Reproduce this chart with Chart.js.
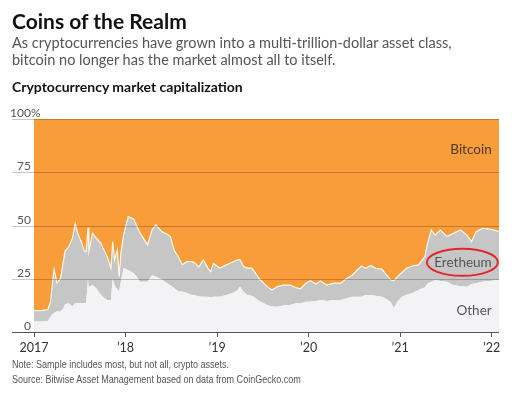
<!DOCTYPE html>
<html>
<head>
<meta charset="utf-8">
<script src="https://cdn.jsdelivr.net/npm/chart.js@4"></script>
<style>
  html, body { margin: 0; padding: 0; background: #fff; }
  body { width: 512px; height: 397px; position: relative; overflow: hidden; font-family: Lato, "Open Sans", sans-serif; }
  #chart { position: absolute; left: 0; top: 0; }
  .txt { position: absolute; left: 12px; white-space: nowrap; }
  .title { top: 9px; font-size: 21px; line-height: 24px; font-weight: 700; color: #111; }
  .dek { top: 35px; font-size: 14.5px; line-height: 16.5px; color: #555; }
  .sub { top: 78px; font-size: 14px; line-height: 18px; font-weight: 700; color: #111; }
  .foot { top: 357px; font-family: "Liberation Sans", Arial, sans-serif; font-size: 11px; line-height: 14.5px; color: #555;
          transform: scaleX(0.82); transform-origin: left top; }
</style>
</head>
<body>
<canvas id="chart" width="512" height="397"></canvas>
<div class="txt title">Coins of the Realm</div>
<div class="txt dek">As cryptocurrencies have grown into a multi-trillion-dollar asset class,<br>bitcoin no longer has the market almost all to itself.</div>
<div class="txt sub">Cryptocurrency market capitalization</div>
<div class="txt foot">Note: Sample includes most, but not all, crypto assets.<br>Source: Bitwise Asset Management based on data from CoinGecko.com</div>
<script>
// dates as decimal years
const dates = [
  2017.00, 2017.08, 2017.15, 2017.18, 2017.21, 2017.22, 2017.25, 2017.29, 2017.32, 2017.34,
  2017.38, 2017.42, 2017.45, 2017.48, 2017.52, 2017.55, 2017.57, 2017.59, 2017.60, 2017.64,
  2017.68, 2017.73, 2017.77, 2017.80, 2017.84, 2017.86, 2017.88, 2017.91, 2017.93, 2017.95,
  2017.98, 2018.03, 2018.09, 2018.12, 2018.16, 2018.24, 2018.29, 2018.33, 2018.40, 2018.45,
  2018.49, 2018.53, 2018.58, 2018.62, 2018.67, 2018.71, 2018.75, 2018.80, 2018.85, 2018.90,
  2018.93, 2018.96, 2019.03, 2019.10, 2019.18, 2019.22, 2019.25, 2019.29, 2019.33, 2019.38,
  2019.42, 2019.46, 2019.51, 2019.55, 2019.60, 2019.66, 2019.72, 2019.80, 2019.86, 2019.91,
  2019.97, 2020.02, 2020.08, 2020.13, 2020.20, 2020.27, 2020.35, 2020.42, 2020.48, 2020.53,
  2020.58, 2020.62, 2020.68, 2020.73, 2020.80, 2020.85, 2020.90, 2020.93, 2020.97, 2021.02,
  2021.07, 2021.13, 2021.20, 2021.27, 2021.30, 2021.34, 2021.38, 2021.44, 2021.51, 2021.58,
  2021.66, 2021.73, 2021.78, 2021.83, 2021.90, 2021.98, 2022.05, 2022.08
];

// share of total market cap, %
const otherShare = [
  4.9, 4.9, 5.0, 7.0, 8.8, 9.0, 9.6, 9.6, 11.0, 13.0,
  13.5, 12.0, 13.5, 13.5, 13.5, 13.5, 13.5, 25.0, 21.3, 22.0,
  20.5, 17.5, 16.0, 15.0, 15.0, 25.0, 22.0, 20.0, 19.0, 24.0,
  30.0, 29.0, 27.6, 26.0, 23.6, 23.6, 26.7, 26.0, 24.5, 23.0,
  22.0, 20.6, 19.0, 19.0, 18.3, 17.5, 17.4, 16.7, 16.6, 16.6,
  16.3, 16.6, 16.5, 17.4, 18.5, 19.5, 21.3, 18.9, 17.4, 17.0,
  15.8, 14.5, 13.5, 12.7, 12.0, 11.9, 12.5, 12.7, 13.5, 13.5,
  14.2, 14.2, 14.5, 15.0, 14.5, 15.0, 15.0, 15.8, 16.6, 16.6,
  16.6, 17.4, 17.4, 17.0, 16.6, 15.5, 14.0, 11.1, 14.2, 16.6,
  17.5, 18.2, 19.7, 21.0, 22.9, 23.5, 24.4, 24.0, 23.6, 22.1,
  21.5, 21.3, 22.5, 22.9, 23.6, 24.0, 24.4, 24.4
];
const ethereumShare = [
  5.1, 5.1, 5.5, 7.0, 17.2, 20.5, 13.4, 15.4, 22.0, 25.0,
  26.5, 32.0, 37.5, 32.5, 28.5, 24.5, 24.2, 24.0, 16.7, 24.4,
  23.5, 24.2, 22.0, 20.4, 15.0, 17.4, 11.8, 18.5, 7.0, 13.0,
  16.0, 25.2, 25.4, 24.0, 22.8, 17.3, 21.3, 24.3, 22.5, 23.0,
  22.8, 17.9, 16.0, 12.6, 14.7, 15.5, 15.3, 13.8, 17.2, 13.4,
  12.0, 15.6, 13.5, 14.1, 14.5, 14.3, 12.7, 11.8, 12.6, 13.0,
  11.8, 10.5, 9.4, 8.6, 7.7, 9.4, 9.5, 9.3, 7.3, 6.8,
  8.7, 9.9, 8.0, 9.0, 7.5, 7.9, 7.9, 9.4, 10.2, 12.5,
  14.4, 12.5, 13.8, 12.9, 12.9, 11.3, 10.4, 12.9, 11.8, 11.4,
  12.4, 12.8, 11.8, 14.4, 18.8, 24.4, 21.1, 23.9, 21.2, 24.2,
  26.4, 24.2, 19.9, 24.2, 25.1, 24.3, 23.2, 22.6
];
const bitcoinShare = [
  90.0, 90.0, 89.5, 86.0, 74.0, 70.5, 77.0, 75.0, 67.0, 62.0,
  60.0, 56.0, 49.0, 54.0, 58.0, 62.0, 62.3, 51.0, 62.0, 53.6,
  56.0, 58.3, 62.0, 64.6, 70.0, 57.6, 66.2, 61.5, 74.0, 63.0,
  54.0, 45.8, 47.0, 50.0, 53.6, 59.1, 52.0, 49.7, 53.0, 54.0,
  55.2, 61.5, 65.0, 68.4, 67.0, 67.0, 67.3, 69.5, 66.2, 70.0,
  71.7, 67.8, 70.0, 68.5, 67.0, 66.2, 66.0, 69.3, 70.0, 70.0,
  72.4, 75.0, 77.1, 78.7, 80.3, 78.7, 78.0, 78.0, 79.2, 79.7,
  77.1, 75.9, 77.5, 76.0, 78.0, 77.1, 77.1, 74.8, 73.2, 70.9,
  69.0, 70.1, 68.8, 70.1, 70.5, 73.2, 75.6, 76.0, 74.0, 72.0,
  70.1, 69.0, 68.5, 64.6, 58.3, 52.1, 54.5, 52.1, 55.2, 53.7,
  52.1, 54.5, 57.6, 52.9, 51.3, 51.7, 52.4, 53.0
];

const yearTicks = [2017, 2018, 2019, 2020, 2021, 2022];
const yTicks = [0, 25, 50, 75, 100];

const pts = arr => arr.map((v, i) => ({ x: dates[i], y: v }));

const overlay = {
  id: 'overlay',
  afterDatasetsDraw(chart) {
    const { ctx, chartArea, scales } = chart;
    const xs = scales.x, ys = scales.y;
    ctx.save();
    // gridlines over the areas
    yTicks.forEach(t => {
      const y = Math.round(ys.getPixelForValue(t)) + 0.5;
      ctx.beginPath();
      ctx.moveTo(12, y);
      ctx.lineTo(chartArea.right, y);
      ctx.strokeStyle = t === 0 ? '#555' : 'rgba(0,0,0,0.22)';
      ctx.lineWidth = 1;
      ctx.stroke();
      ctx.font = '12px Lato, "Open Sans", sans-serif';
      ctx.fillStyle = '#555';
      ctx.textBaseline = 'alphabetic';
      ctx.textAlign = 'right';
      ctx.fillText(String(t), 31, y - 3);
      if (t === 100) {
        ctx.textAlign = 'left';
        ctx.fillText('%', 31, y - 3);
      }
    });
    // series labels
    ctx.font = '13.5px Lato, "Open Sans", sans-serif';
    ctx.textAlign = 'right';
    ctx.textBaseline = 'middle';
    const lx = xs.getPixelForValue(2022.0);
    ctx.fillStyle = '#4a3a2c';
    ctx.fillText('Bitcoin', lx, ys.getPixelForValue(85.8));
    ctx.fillStyle = '#555';
    ctx.fillText('Eretheum', lx, ys.getPixelForValue(32.7));
    ctx.fillText('Other', lx, ys.getPixelForValue(10));
    // red ring
    ctx.beginPath();
    ctx.ellipse(xs.getPixelForValue(2021.68), ys.getPixelForValue(32.7), 35.5, 13.5, 0, 0, Math.PI * 2);
    ctx.strokeStyle = '#e3262a';
    ctx.lineWidth = 2;
    ctx.stroke();
    ctx.restore();
  }
};

new Chart(document.getElementById('chart'), {
  type: 'line',
  data: {
    datasets: [
      { label: 'Other', data: pts(otherShare), backgroundColor: '#f3f3f5', borderWidth: 0, fill: 'origin' },
      { label: 'Ethereum', data: pts(ethereumShare), backgroundColor: '#c6c6c6', borderColor: '#fff6e8', borderWidth: 1.2, fill: '-1' },
      { label: 'Bitcoin', data: pts(bitcoinShare), backgroundColor: '#f99d3a', borderWidth: 0, fill: '-1' }
    ]
  },
  options: {
    responsive: false,
    animation: false,
    devicePixelRatio: 1,
    layout: { padding: { left: 34, right: 13, top: 119, bottom: 0 } },
    elements: { point: { radius: 0 }, line: { tension: 0 } },
    plugins: { legend: { display: false }, tooltip: { enabled: false } },
    scales: {
      x: {
        type: 'linear',
        min: 2017,
        max: 2022.08,
        afterBuildTicks: s => { s.ticks = yearTicks.map(v => ({ value: v })); },
        afterFit: s => { s.height = 65; },
        grid: { display: true, drawOnChartArea: false, drawTicks: true, tickLength: 5, color: '#555' },
        border: { display: false },
        ticks: {
          autoSkip: false,
          maxRotation: 0,
          padding: 3,
          color: '#333',
          font: { family: 'Lato, "Open Sans", sans-serif', size: 12.5 },
          callback: v => v === 2017 ? '2017' : '\u2019' + String(v).slice(2)
        }
      },
      y: {
        stacked: true,
        min: 0,
        max: 100,
        display: false
      }
    }
  },
  plugins: [overlay]
});
</script>
</body>
</html>
